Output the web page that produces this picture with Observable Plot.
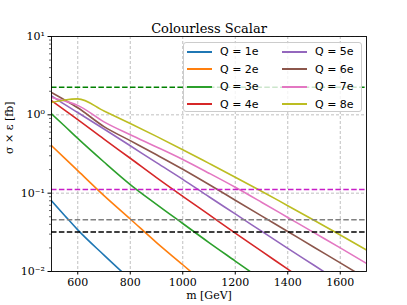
<!DOCTYPE html>
<html><head><meta charset="utf-8">
<script src="https://cdn.jsdelivr.net/npm/d3@7"></script>
<script src="https://cdn.jsdelivr.net/npm/@observablehq/plot@0.6"></script>
<style>
body{margin:0;background:#fff;}
#wrap{position:relative;width:407px;height:305px;overflow:hidden;}
#wrap svg text{font-family:'DejaVu Serif';}
#legend{position:absolute;left:183px;top:42px;width:179px;height:70px;background:rgba(255,255,255,0.8);border:1px solid #cccccc;border-radius:3px;box-sizing:border-box;font-family:'DejaVu Sans';font-size:11px;color:#000;}
.item{position:absolute;height:14px;display:flex;align-items:center;white-space:nowrap;}
.sw{width:25px;height:0;border-top:2px solid;margin-right:8px;}
</style></head><body><div id="wrap"></div>
<script>
const title = "Colourless Scalar";
const xLabel = "m [GeV]";
const yLabel = "σ × ε [fb]";
const labels = ["Q = 1e","Q = 2e","Q = 3e","Q = 4e","Q = 5e","Q = 6e","Q = 7e","Q = 8e"];
const colors = ["#1f77b4","#ff7f0e","#2ca02c","#d62728","#9467bd","#8c564b","#e377c2","#bcbd22"];
const mass = [500,550,600,700,800,900,1000,1100,1200,1300,1400,1500,1600,1700];
const q1 = [0.080,0.052,0.034,0.0162,0.0079,null,null,null,null,null,null,null,null,null];
const q2 = [0.405,0.28,0.194,0.093,0.0468,0.0234,0.0122,0.0063,null,null,null,null,null,null];
const q3 = [1.03,0.72,0.50,0.25,0.129,0.072,0.041,0.0234,0.0136,0.0079,null,null,null,null];
const q4 = [1.52,1.15,0.87,0.49,0.279,0.158,0.0912,0.0531,0.0309,0.0182,0.0107,0.0063,null,null];
const q5 = [1.75,1.36,1.07,0.66,0.403,0.245,0.150,0.090,0.0543,0.0327,0.0197,0.0120,0.0073,null];
const q6 = [1.93,1.55,1.23,0.708,0.468,0.309,0.202,0.129,0.0813,0.0513,0.0324,0.0204,0.0129,0.0081];
const q7 = [1.66,1.50,1.32,0.813,0.556,0.389,0.269,0.180,0.119,0.0767,0.049,0.0313,0.020,0.0127];
const q8 = [1.44,1.55,1.6,1.122,0.776,0.531,0.359,0.240,0.160,0.106,0.0692,0.0452,0.0292,0.0188];
const limits = [2.25, 0.111, 0.0457, 0.032];
const limitColors = ["#008000","#c81ec8","#808080","#000000"];
const xTicks = [600,800,1000,1200,1400,1600];
const yTicks = [0.01,0.1,1,10];
const yTickLabels = ["10⁻²","10⁻¹","10⁰","10¹"];

const seriesValues = [q1,q2,q3,q4,q5,q6,q7,q8];
const data = seriesValues.flatMap((vals, s) => mass.map((m, i) => ({m, v: vals[i], q: labels[s]})));
const minorTicks = [];
for (const d of [0.01, 0.1, 1]) for (let k = 2; k <= 9; k++) minorTicks.push(d * k);
const limitData = limits.map((v, i) => ({v, c: limitColors[i]}));
const ff = "DejaVu Serif";

const chart = Plot.plot({
  width: 407, height: 305,
  marginLeft: 51, marginRight: 41, marginTop: 36, marginBottom: 34,
  style: {fontFamily: ff, fontSize: "11px", background: "white", color: "black"},
  x: {domain: [500, 1700]},
  y: {type: "log", domain: [0.01, 10]},
  color: {domain: labels, range: colors},
  marks: [
    Plot.gridX(xTicks, {stroke: "#b0b0b0", strokeOpacity: 1, strokeWidth: 0.8, strokeDasharray: "3,2"}),
    Plot.gridY(yTicks, {stroke: "#b0b0b0", strokeOpacity: 1, strokeWidth: 0.8, strokeDasharray: "3,2"}),
    Plot.line(data, {x: "m", y: "v", z: "q", stroke: "q", strokeWidth: 1.6, curve: "monotone-x", clip: true}),
    Plot.ruleY(limitData, {y: "v", stroke: "c", strokeWidth: 1.5, strokeDasharray: "5.5,2.4"}),
    Plot.axisX({ticks: xTicks, tickSize: 3.5, tickPadding: 3, tickFormat: d => String(d), label: null, fontSize: 11, fontFamily: ff}),
    Plot.axisY({ticks: yTicks, tickSize: 3.5, tickPadding: 3, tickFormat: d => yTickLabels[yTicks.indexOf(d)], label: null, fontSize: 11, fontFamily: ff}),
    Plot.axisY({ticks: minorTicks, tickSize: 2, tickFormat: () => "", label: null, strokeWidth: 0.6}),
    Plot.frame({stroke: "black", strokeWidth: 0.9}),
    Plot.text([title], {frameAnchor: "top", dy: -13, fontSize: 13, fontFamily: ff, text: d => d}),
    Plot.text([xLabel], {frameAnchor: "bottom", dy: 27, fontSize: 11, fontFamily: ff, text: d => d}),
    Plot.text([yLabel], {frameAnchor: "left", dx: -42, rotate: -90, fontSize: 11, fontFamily: ff, text: d => d})
  ]
});
const wrap = document.getElementById("wrap");
wrap.appendChild(chart);
const legend = document.createElement("div");
legend.id = "legend";
labels.forEach((lab, i) => {
  const col = Math.floor(i / 4), row = i % 4;
  const it = document.createElement("div");
  it.className = "item";
  it.style.left = (col ? 98 : 3) + "px";
  it.style.top = (1.5 + 17.5 * row) + "px";
  const sw = document.createElement("span");
  sw.className = "sw";
  sw.style.borderColor = colors[i];
  it.appendChild(sw);
  it.appendChild(document.createTextNode(lab));
  legend.appendChild(it);
});
wrap.appendChild(legend);
</script></body></html>
